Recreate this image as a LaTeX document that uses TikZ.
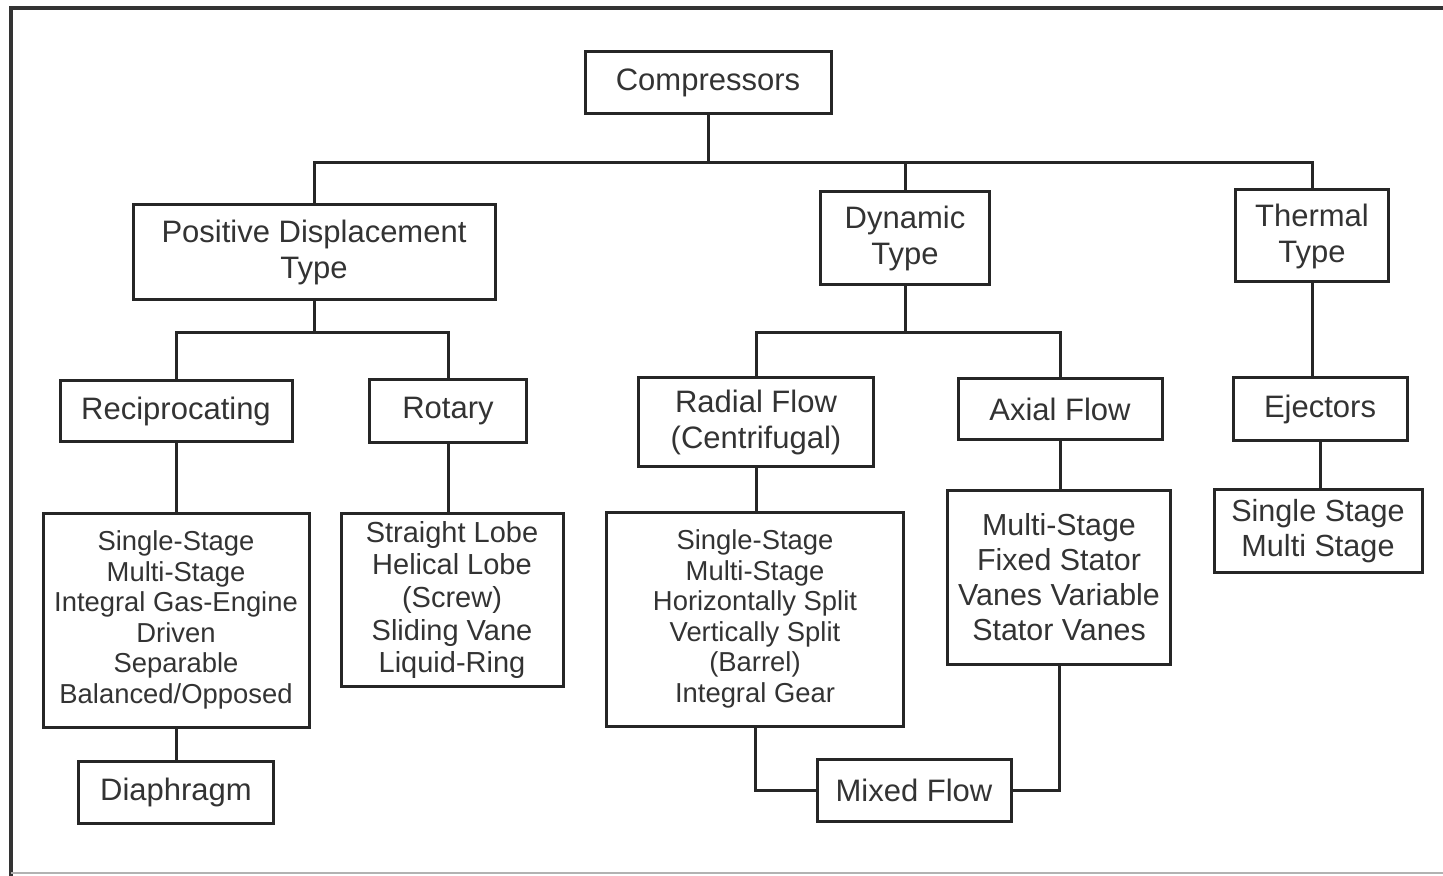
\documentclass[tikz,border=0pt]{standalone}
\usepackage{fontspec}
\setmainfont{Liberation Sans}
\begin{document}
\begin{tikzpicture}[x=0.5pt, y=-0.5pt, line width=1.5pt,
  every node/.style={text=black!80},
  box/.style={draw=black!85,line width=1.5pt,align=center,inner sep=0pt,font=\fontsize{15.5}{18}\selectfont},
  listbox/.style={box,font=\fontsize{13.7}{15.3}\selectfont},
  link/.style={draw=black!85,line width=1.5pt}]
\useasboundingbox (0,0) rectangle (1443,876);
% frame
\draw[black!80,line width=2pt] (1443,8) -- (11,8) -- (11,876);
\draw[black!30,line width=1pt] (11,873) -- (1443,873);
% top level
\node[box,minimum width=123pt,minimum height=31pt] (comp) at (708,83) {Compressors};
\node[box,minimum width=181pt,minimum height=47.5pt] (pd) at (314,252) {Positive Displacement\\Type};
\node[box,minimum width=84.5pt,minimum height=46.5pt] (dyn) at (905,238) {Dynamic\\Type};
\node[box,minimum width=76.5pt,minimum height=46pt] (therm) at (1312,236) {Thermal\\Type};
% second level
\node[box,minimum width=116pt,minimum height=30.5pt] (rec) at (176,411) {Reciprocating};
\node[box,minimum width=78.5pt,minimum height=31pt] (rot) at (448,411) {Rotary};
\node[box,minimum width=117.5pt,minimum height=44.5pt] (rad) at (756,422) {Radial Flow\\(Centrifugal)};
\node[box,minimum width=102pt,minimum height=30.5pt] (ax) at (1060,409) {Axial Flow};
\node[box,minimum width=87pt,minimum height=31pt] (ej) at (1320,409) {Ejectors};
% lists
\node[listbox,minimum width=133pt,minimum height=107pt] (recl) at (176,620) {Single-Stage\\Multi-Stage\\Integral Gas-Engine\\Driven\\Separable\\Balanced/Opposed};
\node[box,font=\fontsize{14.5}{16.3}\selectfont,minimum width=111pt,minimum height=86.5pt] (rotl) at (452,600) {Straight Lobe\\Helical Lobe\\(Screw)\\Sliding Vane\\Liquid-Ring};
\node[listbox,minimum width=148.5pt,minimum height=107pt] (radl) at (755,619) {Single-Stage\\Multi-Stage\\Horizontally Split\\Vertically Split\\(Barrel)\\Integral Gear};
\node[box,font=\fontsize{15.2}{17.5}\selectfont,minimum width=111.5pt,minimum height=87pt] (axl) at (1059,577) {Multi-Stage\\Fixed Stator\\Vanes Variable\\Stator Vanes};
\node[box,font=\fontsize{15.3}{17.5}\selectfont,minimum width=104pt,minimum height=41.5pt] (ejl) at (1318,531) {Single Stage\\Multi Stage};
% bottom
\node[box,minimum width=97.5pt,minimum height=31pt] (diaph) at (176,792) {Diaphragm};
\node[box,minimum width=97pt,minimum height=31pt] (mixed) at (914,790) {Mixed Flow};
% connectors
\coordinate (bus) at (708,163);
\coordinate (pdbus) at (314,333);
\coordinate (dynbus) at (905,333);
\draw[link] (comp.south) -- (bus);
\draw[link] (pd.north) |- (dyn.north |- bus) -| (therm.north);
\draw[link] (dyn.north) -- (dyn.north |- bus);
\draw[link] (pd.south) -- (pdbus);
\draw[link] (rec.north) |- (pdbus) -| (rot.north);
\draw[link] (dyn.south) -- (dynbus);
\draw[link] (rad.north) |- (dynbus) -| (ax.north);
\draw[link] (therm.south) -- (therm.south |- ej.north);
\draw[link] (rec.south) -- (recl.north);
\draw[link] (rot.south) -- (rot.south |- rotl.north);
\draw[link] (rad.south) -- (rad.south |- radl.north);
\draw[link] (ax.south) -- (ax.south |- axl.north);
\draw[link] (ej.south) -- (ej.south |- ejl.north);
\draw[link] (recl.south) -- (diaph.north);
\draw[link] (radl.south) |- (mixed.west);
\draw[link] (axl.south) |- (mixed.east);
\end{tikzpicture}
\end{document}
